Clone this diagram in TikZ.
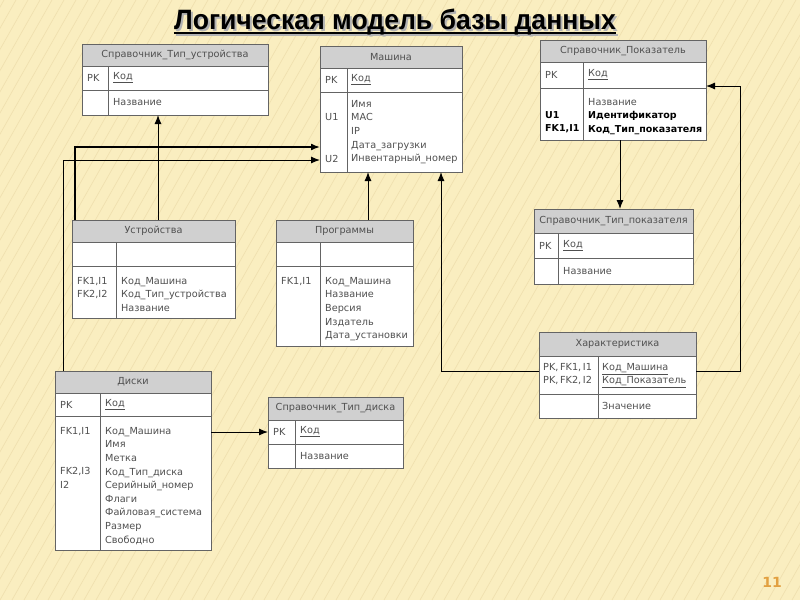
\documentclass[tikz,border=0pt]{standalone}
\usepackage{fontspec}
\setmainfont{DejaVu Sans}
\newfontfamily\titlefont[FakeStretch=0.95]{Liberation Sans}
\usepackage{xcolor}
\usetikzlibrary{arrows.meta,positioning,calc}

\definecolor{slidebg}{RGB}{250,238,192}
\definecolor{stripecol}{RGB}{240,224,175}
\definecolor{hdrgray}{RGB}{208,208,208}
\definecolor{edgegray}{RGB}{100,100,100}
\definecolor{txtgray}{RGB}{80,80,80}
\definecolor{numorange}{RGB}{226,160,64}

\newcommand{\tabfont}{\fontsize{9.7}{13.6}\selectfont}

\tikzset{
  tabhead/.style={draw=edgegray, line width=0.8pt, fill=hdrgray, anchor=north west, inner sep=0pt, outer sep=0pt, font=\tabfont, text=txtgray},
  tabrow/.style={draw=edgegray, line width=0.8pt, fill=white, anchor=north west, inner sep=0pt, outer sep=0pt},
  divline/.style={draw=edgegray, line width=0.8pt},
  col/.style={anchor=west, inner sep=0pt, font=\tabfont, text=txtgray},
  colblock/.style={anchor=north west, inner sep=0pt, align=left, font=\tabfont, text=txtgray},
  link/.style={-{Latex[length=9pt,width=7pt]}, line width=1pt},
  stripeline/.style={draw=stripecol, line width=0.7pt}
}

% table frame: name, corner, width, header h, key row h, body h, divider, title
\newcommand{\erbox}[8]{%
  \node[tabhead, minimum width=#3pt, minimum height=#4pt] (#1h) at (#2) {#8};
  \node[tabrow, minimum width=#3pt, minimum height=#5pt] (#1k) at (#1h.south west) {};
  \node[tabrow, minimum width=#3pt, minimum height=#6pt] (#1b) at (#1k.south west) {};
  \draw[divline] ($(#1k.north west)+(#7,0)$) -- ($(#1b.south west)+(#7,0)$);
}

\begin{document}
\begin{tikzpicture}[x=1pt, y=-1pt]
  \useasboundingbox (0,0) rectangle (800,600);
  \fill[slidebg] (0,0) rectangle (800,600);
  \foreach \k in {-360,-348,...,800}
    \draw[stripeline] (\k,600) -- (\k+340,0);

  % title
  \node[inner sep=0pt, anchor=base, text=gray!60, font=\titlefont\bfseries\fontsize{28}{30}\selectfont] (titleshadow) at (397,31) {Логическая модель базы данных};
  \draw[gray!60, line width=2pt] ($(titleshadow.base west)+(0,4)$) -- ($(titleshadow.base east)+(0,4)$);
  \node[inner sep=0pt, anchor=base, font=\titlefont\bfseries\fontsize{28}{30}\selectfont] (title) at (395,29) {Логическая модель базы данных};
  \draw[line width=2pt] ($(title.base west)+(0,4)$) -- ($(title.base east)+(0,4)$);

  % tables
  \erbox{tu}{82,44}{186}{22}{24}{25}{26}{Справочник\_Тип\_устройства}
  \node[col] (tu-pk) at ($(tuk.west)+(5,0)$) {PK};
  \node[col] (tu-kod) at ($(tuk.west)+(31,0)$) {\underline{Код}};
  \node[col] (tu-nm) at ($(tub.west)+(31,0)$) {Название};

  \erbox{ma}{320,46}{142}{22}{24}{80}{27}{Машина}
  \node[col] (ma-pk) at ($(mak.west)+(5,0)$) {PK};
  \node[col] (ma-kod) at ($(mak.west)+(31,0)$) {\underline{Код}};
  \node[colblock] (ma-cols) at ($(mab.north west)+(31,8)$) {Имя\\MAC\\IP\\Дата\_загрузки\\Инвентарный\_номер};
  \node[col] (ma-u1) at ($(mab.north west)+(5,25)$) {U1};
  \node[col] (ma-u2) at ($(mab.north west)+(5,67)$) {U2};

  \erbox{po}{540,40}{166}{22}{26}{52}{43}{Справочник\_Показатель}
  \node[col] (po-pk) at ($(pok.west)+(5,0)$) {PK};
  \node[col] (po-kod) at ($(pok.west)+(48,0)$) {\underline{Код}};
  \node[colblock] (po-cols) at ($(pob.north west)+(48,10)$) {Название\\\textcolor{black}{\fontsize{9.5}{13.6}\bfseries Идентификатор}\\\textcolor{black}{\fontsize{9.5}{13.6}\bfseries Код\_Тип\_показателя}};
  \node[col, text=black, font=\fontsize{9.5}{13.6}\selectfont\bfseries] (po-u1) at ($(pob.north west)+(5,27)$) {U1};
  \node[col, text=black, font=\fontsize{9.5}{13.6}\selectfont\bfseries] (po-fk) at ($(pob.north west)+(5,41)$) {FK1,I1};

  \erbox{us}{72,220}{163}{22}{24}{52}{44}{Устройства}
  \node[colblock] (us-keys) at ($(usb.north west)+(5,11)$) {FK1,I1\\FK2,I2};
  \node[colblock] (us-cols) at ($(usb.north west)+(49,11)$) {Код\_Машина\\Код\_Тип\_устройства\\Название};

  \erbox{pr}{276,220}{137}{22}{24}{80}{44}{Программы}
  \node[colblock] (pr-keys) at ($(prb.north west)+(5,11)$) {FK1,I1};
  \node[colblock] (pr-cols) at ($(prb.north west)+(49,11)$) {Код\_Машина\\Название\\Версия\\Издатель\\Дата\_установки};

  \erbox{tp}{534,209}{159}{24}{25}{26}{24}{Справочник\_Тип\_показателя}
  \node[col] (tp-pk) at ($(tpk.west)+(5,0)$) {PK};
  \node[col] (tp-kod) at ($(tpk.west)+(29,0)$) {\underline{Код}};
  \node[col] (tp-nm) at ($(tpb.west)+(29,0)$) {Название};

  \erbox{ha}{539,332}{157}{24}{38}{24}{59}{Характеристика}
  \node[colblock] (ha-keys) at ($(hak.north west)+(4,7)$) {PK,\,FK1,\,I1\\PK,\,FK2,\,I2};
  \node[colblock] (ha-cols) at ($(hak.north west)+(63,7)$) {\underline{Код\_Машина}\\\underline{Код\_Показатель}};
  \node[col] (ha-val) at ($(hab.west)+(63,0)$) {Значение};

  \erbox{di}{55,371}{156}{22}{23}{134}{45}{Диски}
  \node[col] (di-pk) at ($(dik.west)+(5,0)$) {PK};
  \node[col] (di-kod) at ($(dik.west)+(50,0)$) {\underline{Код}};
  \node[colblock] (di-cols) at ($(dib.north west)+(50,11)$) {Код\_Машина\\Имя\\Метка\\Код\_Тип\_диска\\Серийный\_номер\\Флаги\\Файловая\_система\\Размер\\Свободно};
  \node[colblock] (di-fk1) at ($(dib.north west)+(5,11)$) {FK1,I1};
  \node[colblock] (di-fk2) at ($(dib.north west)+(5,51)$) {FK2,I3\\I2};

  \erbox{td}{268,397}{135}{23}{24}{24}{27}{Справочник\_Тип\_диска}
  \node[col] (td-pk) at ($(tdk.west)+(5,0)$) {PK};
  \node[col] (td-kod) at ($(tdk.west)+(32,0)$) {\underline{Код}};
  \node[col] (td-nm) at ($(tdb.west)+(32,0)$) {Название};

  % relations
  \coordinate (c1) at ($(ush.north west)+(86,0)$);
  \draw[link] (c1) -- (c1 |- tub.south);
  \draw[link, line width=1.6pt] ($(ush.north west)+(3,0)$) |- ($(mab.north west)+(0,55)$);
  \draw[link] ($(dih.north west)+(8,0)$) |- ($(mab.north west)+(0,68)$);
  \coordinate (c4) at ($(prh.north west)+(92,0)$);
  \draw[link] (c4) -- (c4 |- mab.south);
  \coordinate (c5) at ($(mab.south west)+(121,0)$);
  \draw[link] ($(hak.north west)+(0,15)$) -| (c5);
  \draw[link] ($(hak.north east)+(0,15)$) -- ++(44,0) |- ($(pok.north east)+(0,24)$);
  \coordinate (c7) at ($(pob.south west)+(80,0)$);
  \draw[link] (c7) -- (c7 |- tph.north);
  \coordinate (c8) at ($(dib.north east)+(0,16)$);
  \draw[link] (c8) -- (c8 -| tdk.west);

  % slide number
  \node[text=numorange, font=\fontsize{14}{16}\selectfont\bfseries] (slideno) at (772,582) {11};
\end{tikzpicture}
\end{document}
